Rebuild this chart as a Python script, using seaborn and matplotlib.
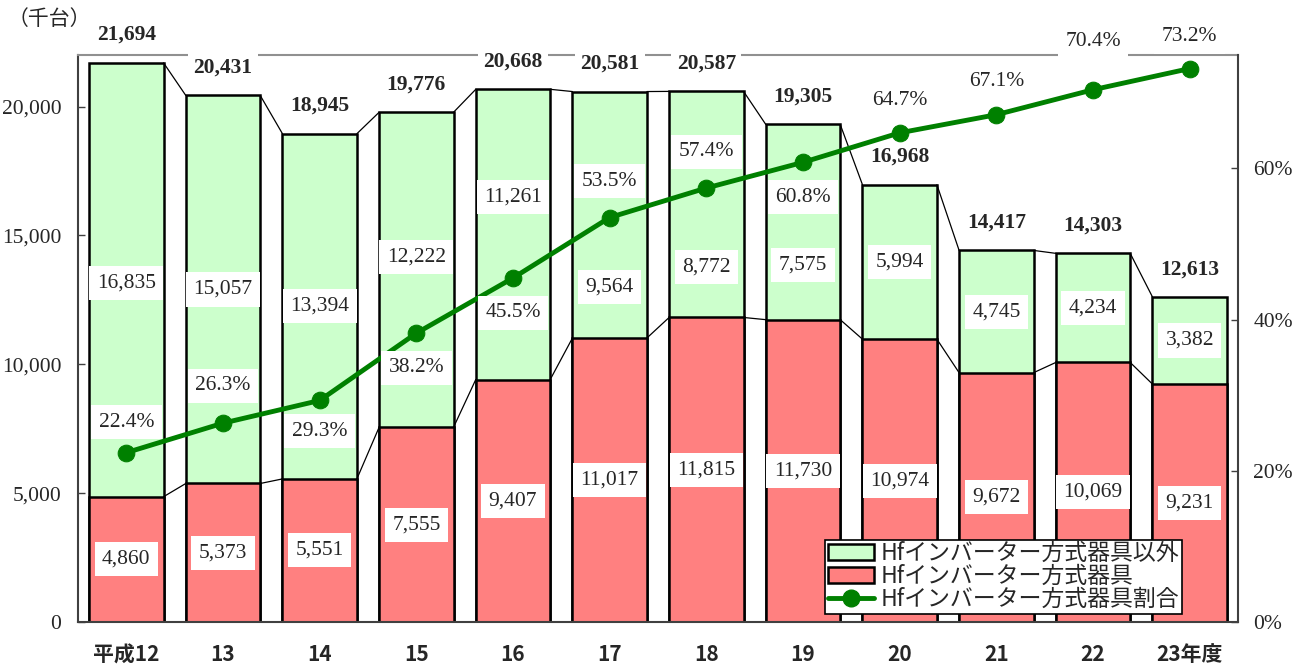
import matplotlib
matplotlib.use("Agg")
import matplotlib.pyplot as plt
import matplotlib.ticker as mticker
from matplotlib.patches import Patch
from matplotlib.lines import Line2D
import seaborn as sns
import pandas as pd
import numpy as np

years = ["平成12", "13", "14", "15", "16", "17", "18", "19", "20", "21", "22", "23年度"]
hf = [4860, 5373, 5551, 7555, 9407, 11017, 11815, 11730, 10974, 9672, 10069, 9231]
other = [16835, 15057, 13394, 12222, 11261, 9564, 8772, 7575, 5994, 4745, 4234, 3382]
totals = [21694, 20431, 18945, 19776, 20668, 20581, 20587, 19305, 16968, 14417, 14303, 12613]
share = [22.4, 26.3, 29.3, 38.2, 45.5, 53.5, 57.4, 60.8, 64.7, 67.1, 70.4, 73.2]

# label nudges (points) so the labels keep clear of the line
share_dy = [22, 27, -22, -25, -25, 26, 26, -25, 23, 24, 35, 23]
other_dy = [-2, 0, 0, 9, 27, -52, -45, -31, 0, 0, 0, 0]

df = pd.DataFrame({"year": years, "hf": hf, "other": other, "total": totals, "share": share})
df["stack"] = df["hf"] + df["other"]

sns.set_theme(style="white")
plt.rcParams["font.family"] = ["Noto Sans CJK JP", "DejaVu Sans"]
serif = "Liberation Serif"

green_fill = "#CCFFCC"
red_fill = "#FF8080"
line_green = "#008000"
bw = 0.77
fs = 15.5

fig = plt.figure(figsize=(13, 6.68), dpi=100)
ax = fig.add_axes([0.06, 0.0689, 0.8923, 0.8488])

sns.barplot(data=df, x="year", y="stack", color=green_fill, edgecolor="black",
            linewidth=1.8, width=bw, saturation=1, ax=ax)
sns.barplot(data=df, x="year", y="hf", color=red_fill, edgecolor="black",
            linewidth=1.8, width=bw, saturation=1, ax=ax)

n = len(years)
xs = np.arange(n)
# connector lines between neighbouring bars
for col in ["stack", "hf"]:
    v = df[col].values
    for i in range(n - 1):
        ax.plot([i + bw / 2, i + 1 - bw / 2], [v[i], v[i + 1]], color="black", lw=0.9, zorder=1)

box = dict(boxstyle="square,pad=0.35", fc="white", ec="none")
for i in range(n):
    ax.text(i, hf[i] / 2, f"{hf[i]:,}", ha="center", va="center", family=serif,
            fontsize=fs, bbox=box, zorder=5)
    ax.annotate(f"{other[i]:,}", (i, hf[i] + other[i] / 2), xytext=(0, other_dy[i]),
                textcoords="offset points", ha="center", va="center",
                family=serif, fontsize=fs, bbox=box, zorder=5)
    ax.annotate(f"{totals[i]:,}", (i, df["stack"][i]), xytext=(0, 20), textcoords="offset points",
                ha="center", va="center", family=serif, fontsize=fs, fontweight="bold",
                bbox=dict(boxstyle="square,pad=0.25", fc="white", ec="none"),
                annotation_clip=False, zorder=6)

ax.set_xlim(-0.5, n - 0.5)
ax.set_ylim(0, 22000)
ax.set_yticks([0, 5000, 10000, 15000, 20000])
ax.yaxis.set_major_formatter(mticker.FuncFormatter(lambda v, p: f"{int(v):,}"))
ax.set_xlabel("")
ax.set_ylabel("")
ax.set_xticks(xs)
ax.set_xticklabels(years, fontsize=15, fontweight="bold")
ax.set_xticks(xs[:-1] + 0.5, minor=True)
ax.tick_params(axis="x", which="major", length=0, pad=16)
ax.tick_params(axis="x", which="minor", direction="in", length=5, width=1, color="#404040")
ax.tick_params(axis="y", direction="in", length=5, width=1, pad=12, left=True, color="#404040",
               labelsize=fs, labelfontfamily=serif)

for s in ["left", "bottom"]:
    ax.spines[s].set_color("#404040")
    ax.spines[s].set_linewidth(1.5)
ax.spines["top"].set_color("#909090")
ax.spines["top"].set_linewidth(1.5)
ax.spines["right"].set_visible(False)

ax2 = ax.twinx()
sns.lineplot(x=xs, y=df["share"] / 100, color=line_green, lw=3.5, marker="o",
             markersize=12, markeredgecolor=line_green, ax=ax2, zorder=4)
ax2.set_ylim(0, 0.75)
ax2.set_yticks([0, 0.2, 0.4, 0.6])
ax2.yaxis.set_major_formatter(mticker.PercentFormatter(1.0, decimals=0))
ax2.tick_params(axis="y", direction="in", length=5, width=1, pad=11, right=True, color="#404040",
                labelsize=fs, labelfontfamily=serif)
ax2.set_ylabel("")
for s in ["left", "top", "bottom"]:
    ax2.spines[s].set_visible(False)
ax2.spines["right"].set_color("#404040")
ax2.spines["right"].set_linewidth(1.5)

for i in range(n):
    ax2.annotate(f"{share[i]:.1f}%", (i, share[i] / 100), xytext=(0, share_dy[i]),
                 textcoords="offset points", ha="center", va="center", family=serif,
                 fontsize=fs, bbox=box, annotation_clip=False, zorder=6)

handles = [
    Patch(facecolor=green_fill, edgecolor="black", lw=1.8, label="Hfインバーター方式器具以外"),
    Patch(facecolor=red_fill, edgecolor="black", lw=1.8, label="Hfインバーター方式器具"),
    Line2D([0], [0], color=line_green, lw=3.5, marker="o", markersize=12, label="Hfインバーター方式器具割合"),
]
leg = ax2.legend(handles=handles, loc="lower right", bbox_to_anchor=(0.952, 0.014),
                 fontsize=16.5, frameon=True, fancybox=False, edgecolor="black",
                 framealpha=1, handlelength=2.0, handleheight=0.7, borderpad=0.12,
                 labelspacing=0.0, handletextpad=0.3, borderaxespad=0)
leg.get_frame().set_linewidth(1.2)
leg.set_zorder(10)

fig.text(0.006, 0.972, "（千台）", fontsize=15, ha="left", va="center")

fig.savefig("out.png", dpi=100)
